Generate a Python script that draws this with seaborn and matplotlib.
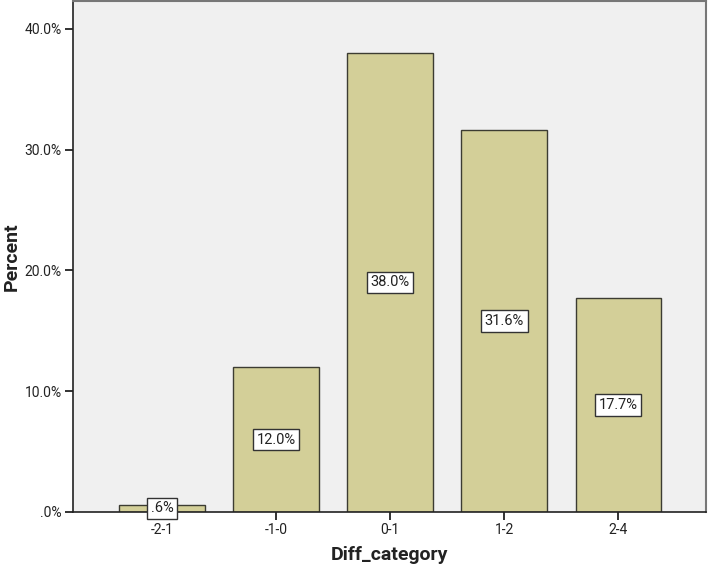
import pandas as pd
import matplotlib
matplotlib.use('Agg')
import matplotlib.pyplot as plt
import seaborn as sns

# --- DATA ---
categories = ['-2-1', '-1-0', '0-1', '1-2', '2-4']
percents = [0.6, 12.0, 38.0, 31.6, 17.7]
bar_labels = ['.6%', '12.0%', '38.0%', '31.6%', '17.7%']
y_ticks = [0, 10, 20, 30, 40]
y_tick_labels = ['.0%', '10.0%', '20.0%', '30.0%', '40.0%']

df = pd.DataFrame({'Diff_category': categories, 'Percent': percents})

sns.set_style('ticks')
plt.rcParams['font.family'] = ['Roboto', 'DejaVu Sans']

fig = plt.figure(figsize=(7.09, 5.68), dpi=100)
# axes box: x 73..706 px, y 1..512 px
ax = fig.add_axes([0.103, 0.0986, 0.893, 0.8996])
ax.set_facecolor('#f0f0f0')

sns.barplot(data=df, x='Diff_category', y='Percent', color='#d3cf98',
            saturation=1, width=0.75, edgecolor='#3c3c32', linewidth=1.0, ax=ax)

# value labels in the middle of each bar
for i, (v, lab) in enumerate(zip(percents, bar_labels)):
    ax.text(i, v / 2, lab, ha='center', va='center', fontsize=10.5, color='#222222',
            bbox=dict(boxstyle='square,pad=0.25', facecolor='white',
                      edgecolor='#333333', linewidth=1.0))

ax.set_xlim(-0.78, 4.77)
ax.set_ylim(0, 42.3)
ax.set_yticks(y_ticks)
ax.set_yticklabels(y_tick_labels)
ax.tick_params(axis='both', labelsize=10, length=6, width=1.3, pad=2,
               color='#222222', labelcolor='#222222')
ax.set_xlabel('Diff_category', fontsize=14, fontweight='bold', color='#222222')
ax.set_ylabel('Percent', fontsize=14, fontweight='bold', color='#222222')
ax.xaxis.set_label_coords(0.5, -0.066)
ax.yaxis.set_label_coords(-0.082, 0.5)

for side in ['left', 'bottom']:
    ax.spines[side].set_color('#222222')
    ax.spines[side].set_linewidth(1.2)
for side in ['top', 'right']:
    ax.spines[side].set_visible(True)
    ax.spines[side].set_color('#777777')
    ax.spines[side].set_linewidth(1.5)

fig.savefig('out.png', dpi=100)
